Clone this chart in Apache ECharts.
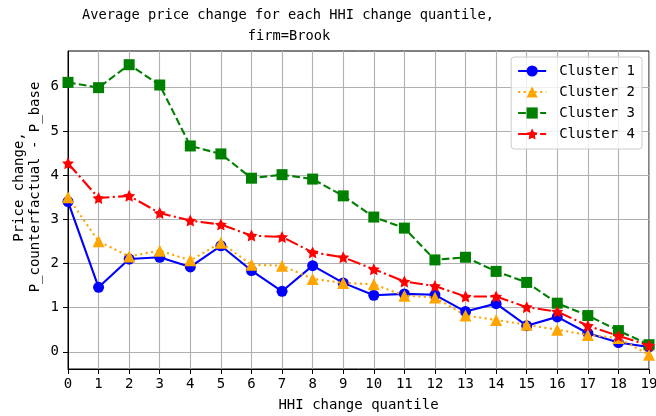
<!DOCTYPE html>
<html>
<head>
<meta charset="utf-8">
<script src="https://cdn.jsdelivr.net/npm/echarts@6/dist/echarts.min.js"></script>
<style>html,body{margin:0;padding:0;background:#fff}#c{width:656px;height:416px}</style>
</head>
<body>
<div id="c"></div>
<script>
const quantiles = [0,1,2,3,4,5,6,7,8,9,10,11,12,13,14,15,16,17,18,19];
const cluster1 = [3.40,1.46,2.10,2.14,1.92,2.40,1.84,1.37,1.95,1.56,1.28,1.31,1.29,0.91,1.09,0.59,0.79,0.42,0.21,0.11];
const cluster2 = [3.50,2.50,2.16,2.29,2.07,2.47,1.97,1.95,1.65,1.56,1.53,1.27,1.23,0.82,0.72,0.61,0.50,0.38,0.31,-0.07];
const cluster3 = [6.10,5.98,6.50,6.04,4.66,4.48,3.93,4.01,3.91,3.53,3.05,2.80,2.08,2.14,1.82,1.57,1.10,0.82,0.48,0.16];
const cluster4 = [4.27,3.48,3.53,3.14,2.97,2.88,2.63,2.60,2.25,2.14,1.87,1.59,1.49,1.25,1.25,1.01,0.91,0.59,0.36,0.14];
const yTicks = [0,1,2,3,4,5,6];
const seriesNames = ['Cluster 1','Cluster 2','Cluster 3','Cluster 4'];
const titleLines = ['Average price change for each HHI change quantile,','firm=Brook'];
const yNameLines = ['Price change,','P_counterfactual - P_base'];
const xName = 'HHI change quantile';

const FONT = '"DejaVu Sans Mono", monospace';
const pair = arr => quantiles.map((q,i)=>[q,arr[i]]);

const styles = [
  {color:'#0000ff', type:'solid', symbol:'circle', size:11},
  {color:'#ffa500', type:[2.1,3.4], symbol:'triangle', size:12},
  {color:'#008000', type:[7.7,3.3], symbol:'rect', size:11},
  {color:'#ff0000', type:[13.3,3.3,2.1,3.3], symbol:'path://M0,-10 L2.94,-4.05 L9.51,-3.09 L4.76,1.55 L5.88,8.09 L0,5 L-5.88,8.09 L-4.76,1.55 L-9.51,-3.09 L-2.94,-4.05 Z', size:12}
];
const datas = [cluster1, cluster2, cluster3, cluster4];

const chart = echarts.init(document.getElementById('c'), null, {renderer:'canvas'});
chart.setOption({
  animation:false,
  backgroundColor:'#fff',
  grid:{left:68, right:7, top:51, bottom:47, show:true, borderColor:'#000', borderWidth:1, backgroundColor:'transparent', containLabel:false, outerBoundsMode:'none'},
  graphic:[
    {type:'text', x:288, y:15, style:{text:titleLines[0], font:'13.7px '+FONT, fill:'#000', textAlign:'center', textVerticalAlign:'middle'}},
    {type:'text', x:289, y:36, style:{text:titleLines[1], font:'13.7px '+FONT, fill:'#000', textAlign:'center', textVerticalAlign:'middle'}},
    {type:'text', x:19, y:187, rotation:Math.PI/2, style:{text:yNameLines[0], font:'14px '+FONT, fill:'#000', textAlign:'center', textVerticalAlign:'middle'}},
    {type:'text', x:35, y:187, rotation:Math.PI/2, style:{text:yNameLines[1], font:'14px '+FONT, fill:'#000', textAlign:'center', textVerticalAlign:'middle'}}
  ],
  legend:{
    orient:'vertical', right:14, top:57,
    data:seriesNames,
    itemWidth:28, itemHeight:14, itemGap:7,
    padding:[7,7,8,6],
    borderColor:'#cccccc', borderWidth:1, borderRadius:3,
    backgroundColor:'rgba(255,255,255,0.8)',
    textStyle:{fontFamily:FONT, fontSize:14, color:'#000', padding:[0,0,0,8]}
  },
  xAxis:{
    type:'value', min:0, max:19, interval:1,
    name:xName, nameLocation:'middle', nameGap:29,
    nameTextStyle:{fontFamily:FONT, fontSize:14, color:'#000'},
    axisLine:{show:true, onZero:false, lineStyle:{color:'#000', width:1}},
    axisTick:{show:true, length:5, lineStyle:{color:'#000'}},
    axisLabel:{fontFamily:FONT, fontSize:14, color:'#000', margin:8, hideOverlap:false},
    splitLine:{show:true, lineStyle:{color:'#b0b0b0', width:1.1}}
  },
  yAxis:{
    type:'value', min:-0.39, max:6.81,
    axisLine:{show:true, onZero:false, lineStyle:{color:'#000', width:1}},
    axisTick:{show:true, length:5, lineStyle:{color:'#000'}, customValues:yTicks},
    axisLabel:{fontFamily:FONT, fontSize:14, color:'#000', margin:9, customValues:yTicks},
    splitLine:{show:true, lineStyle:{color:'#b0b0b0', width:1.1}}
  },
  series: datas.map((d,i)=>({
    name:seriesNames[i], type:'line', data:pair(d),
    symbol:styles[i].symbol, symbolSize:styles[i].size,
    showAllSymbol:true,
    lineStyle:{color:styles[i].color, width:2.1, type:styles[i].type},
    itemStyle:{color:styles[i].color, borderWidth:0},
    z:2+i,
    clip:false
  }))
});
</script>
</body>
</html>
